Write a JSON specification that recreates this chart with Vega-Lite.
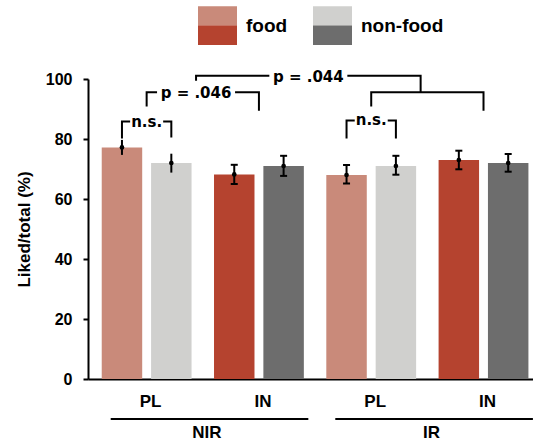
{
  "$schema": "https://vega.github.io/schema/vega-lite/v6.json",
  "autosize": {"type": "none"},
  "padding": {"left": 88, "top": 79, "right": 0, "bottom": 65},
  "width": 445,
  "height": 300,
  "background": "white",
  "config": {"view": {"stroke": null}, "font": "Liberation Sans"},
  "datasets": {
    "bars": [
      {"group": "NIR", "cond": "PL", "pair": "NIR PL", "type": "food", "value": 77.2, "lo": 74.7, "hi": 79.7},
      {"group": "NIR", "cond": "PL", "pair": "NIR PL", "type": "non-food", "value": 72, "lo": 68.8, "hi": 75.1},
      {"group": "NIR", "cond": "IN", "pair": "NIR IN", "type": "food", "value": 68.2, "lo": 65, "hi": 71.4},
      {"group": "NIR", "cond": "IN", "pair": "NIR IN", "type": "non-food", "value": 71, "lo": 67.7, "hi": 74.4},
      {"group": "IR", "cond": "PL", "pair": "IR PL", "type": "food", "value": 68, "lo": 65.2, "hi": 71.3},
      {"group": "IR", "cond": "PL", "pair": "IR PL", "type": "non-food", "value": 71, "lo": 68.1, "hi": 74.4},
      {"group": "IR", "cond": "IN", "pair": "IR IN", "type": "food", "value": 73, "lo": 69.9, "hi": 76.1},
      {"group": "IR", "cond": "IN", "pair": "IR IN", "type": "non-food", "value": 72, "lo": 69.1, "hi": 75}
    ],
    "ns_brackets": [
      {"id": "ns1", "pair": "NIR PL", "type": "food", "v": 80.2, "k": 1},
      {"id": "ns1", "pair": "NIR PL", "type": "food", "v": 85.8, "k": 2},
      {"id": "ns1", "pair": "NIR PL", "type": "non-food", "v": 85.8, "k": 3},
      {"id": "ns1", "pair": "NIR PL", "type": "non-food", "v": 80.5, "k": 4},
      {"id": "ns2", "pair": "IR PL", "type": "food", "v": 80.2, "k": 1},
      {"id": "ns2", "pair": "IR PL", "type": "food", "v": 86.2, "k": 2},
      {"id": "ns2", "pair": "IR PL", "type": "non-food", "v": 86.2, "k": 3},
      {"id": "ns2", "pair": "IR PL", "type": "non-food", "v": 80.2, "k": 4}
    ],
    "pair_brackets": [
      {"id": "b046", "pair": "NIR PL", "v": 90.8, "k": 1},
      {"id": "b046", "pair": "NIR PL", "v": 95.6, "k": 2},
      {"id": "b046", "pair": "NIR IN", "v": 95.6, "k": 3},
      {"id": "b046", "pair": "NIR IN", "v": 89.4, "k": 4},
      {"id": "b044s", "pair": "IR PL", "v": 90.8, "k": 1},
      {"id": "b044s", "pair": "IR PL", "v": 95.6, "k": 2},
      {"id": "b044s", "pair": "IR IN", "v": 95.6, "k": 3},
      {"id": "b044s", "pair": "IR IN", "v": 89.4, "k": 4}
    ],
    "top_bracket": [
      {"id": "b044", "pair": "NIR PL", "v": 99.4, "k": 1},
      {"id": "b044", "pair": "NIR PL", "v": 101.1, "k": 2},
      {"id": "b044", "pair": "IR PL", "v": 101.1, "k": 3},
      {"id": "b044", "pair": "IR PL", "v": 95.6, "k": 4}
    ],
    "ns_labels": [
      {"label": "n.s.", "pair": "NIR PL", "v": 85.8},
      {"label": "n.s.", "pair": "IR PL", "v": 86.2}
    ],
    "p_labels": [
      {"label": "p = .046", "pair": "NIR PL", "v": 95.6},
      {"label": "p = .044", "pair": "NIR IN", "v": 101.1}
    ],
    "groups": [
      {"group": "NIR", "from": "NIR PL", "to": "NIR IN"},
      {"group": "IR", "from": "IR PL", "to": "IR IN"}
    ]
  },
  "layer": [
    {
      "data": {"name": "bars"},
      "transform": [{"filter": "datum.cond === 'PL'"}],
      "mark": {"type": "bar"},
      "encoding": {
        "x": {
          "field": "pair", "type": "nominal",
          "scale": {"type": "band", "domain": ["NIR PL", "NIR IN", "IR PL", "IR IN"], "paddingInner": 0.2, "paddingOuter": 0.0815, "align": 0.75},
          "axis": {"title": null, "ticks": false, "domainColor": "black", "domainWidth": 2, "labelExpr": "split(datum.label, ' ')[1]", "labelFont": "Liberation Sans", "labelFontSize": 17, "labelFontWeight": "bold", "labelColor": "black", "labelPadding": 14, "labelAngle": 0, "labelOffset": 4}
        },
        "xOffset": {"field": "type", "type": "nominal", "scale": {"domain": ["food", "non-food"], "paddingInner": 0.18, "paddingOuter": 0}},
        "y": {
          "field": "value", "type": "quantitative",
          "scale": {"domain": [0, 100], "nice": false},
          "axis": {"values": [0, 20, 40, 60, 80, 100], "grid": false, "domainColor": "black", "domainWidth": 2, "tickColor": "black", "tickWidth": 2, "tickSize": 5, "labelFont": "Liberation Sans", "labelFontSize": 16, "labelFontWeight": "bold", "labelColor": "black", "labelPadding": 11, "title": "Liked/total (%)", "titleFont": "Liberation Sans", "titleFontSize": 17, "titleFontWeight": "bold", "titleColor": "black", "titlePadding": 12}
        },
        "color": {
          "field": "type", "type": "nominal",
          "scale": {"domain": ["food", "non-food"], "range": ["#c98a7a", "#d0d0ce"]},
          "legend": {"orient": "none", "legendX": 110, "legendY": -73, "direction": "horizontal", "columns": 2, "title": null, "symbolType": "M-1,-1H1V0H-1Z", "symbolSize": 1521, "symbolStrokeWidth": 0, "symbolOpacity": 1, "labelOpacity": 0, "labelFontSize": 19, "labelFont": "Liberation Sans", "labelFontWeight": "bold", "labelOffset": 9, "columnPadding": 25, "padding": 0}
        }
      }
    },
    {
      "data": {"name": "bars"},
      "transform": [{"filter": "datum.cond === 'IN'"}],
      "mark": {"type": "bar"},
      "encoding": {
        "x": {"field": "pair", "type": "nominal"},
        "xOffset": {"field": "type", "type": "nominal"},
        "y": {"field": "value", "type": "quantitative"},
        "color": {
          "field": "type", "type": "nominal",
          "scale": {"domain": ["food", "non-food"], "range": ["#b5432f", "#6d6d6d"]},
          "legend": {"orient": "none", "legendX": 110, "legendY": -73, "direction": "horizontal", "columns": 2, "title": null, "symbolType": "M-1,0H1V1H-1Z", "symbolSize": 1521, "symbolStrokeWidth": 0, "symbolOpacity": 1, "labelOpacity": 1, "labelColor": "black", "labelFontSize": 19, "labelFont": "Liberation Sans", "labelFontWeight": "bold", "labelOffset": 9, "columnPadding": 25, "padding": 0}
        }
      }
    },
    {
      "data": {"name": "bars"},
      "mark": {"type": "rule", "color": "black", "strokeWidth": 2},
      "encoding": {
        "x": {"field": "pair", "type": "nominal"},
        "xOffset": {"field": "type", "type": "nominal"},
        "y": {"field": "lo", "type": "quantitative"},
        "y2": {"field": "hi"}
      }
    },
    {
      "data": {"name": "bars"},
      "transform": [{"filter": "datum.pair !== 'NIR PL'"}],
      "mark": {"type": "tick", "color": "black", "size": 7, "thickness": 2, "orient": "horizontal", "opacity": 1},
      "encoding": {
        "x": {"field": "pair", "type": "nominal"},
        "xOffset": {"field": "type", "type": "nominal"},
        "y": {"field": "lo", "type": "quantitative"}
      }
    },
    {
      "data": {"name": "bars"},
      "transform": [{"filter": "datum.pair !== 'NIR PL'"}],
      "mark": {"type": "tick", "color": "black", "size": 7, "thickness": 2, "orient": "horizontal", "opacity": 1},
      "encoding": {
        "x": {"field": "pair", "type": "nominal"},
        "xOffset": {"field": "type", "type": "nominal"},
        "y": {"field": "hi", "type": "quantitative"}
      }
    },
    {
      "data": {"name": "bars"},
      "mark": {"type": "point", "filled": true, "color": "black", "size": 22, "opacity": 1},
      "encoding": {
        "x": {"field": "pair", "type": "nominal"},
        "xOffset": {"field": "type", "type": "nominal"},
        "y": {"field": "value", "type": "quantitative"}
      }
    },
    {
      "data": {"name": "ns_brackets"},
      "mark": {"type": "line", "color": "black", "strokeWidth": 2, "strokeJoin": "miter"},
      "encoding": {
        "x": {"field": "pair", "type": "nominal"},
        "xOffset": {"field": "type", "type": "nominal"},
        "y": {"field": "v", "type": "quantitative"},
        "detail": {"field": "id"},
        "order": {"field": "k"}
      }
    },
    {
      "data": {"name": "pair_brackets"},
      "mark": {"type": "line", "color": "black", "strokeWidth": 2, "strokeJoin": "miter"},
      "encoding": {
        "x": {"field": "pair", "type": "nominal"},
        "y": {"field": "v", "type": "quantitative"},
        "detail": {"field": "id"},
        "order": {"field": "k"}
      }
    },
    {
      "data": {"name": "top_bracket"},
      "mark": {"type": "line", "color": "black", "strokeWidth": 2, "strokeJoin": "miter"},
      "encoding": {
        "x": {"field": "pair", "type": "nominal", "bandPosition": 1.05},
        "y": {"field": "v", "type": "quantitative"},
        "detail": {"field": "id"},
        "order": {"field": "k"}
      }
    },
    {
      "data": {"name": "ns_labels"},
      "mark": {"type": "point", "shape": "M-1,-0.4H1V0.4H-1Z", "size": 1089, "filled": true, "color": "white", "opacity": 1, "strokeWidth": 0},
      "encoding": {
        "x": {"field": "pair", "type": "nominal"},
        "y": {"field": "v", "type": "quantitative"}
      }
    },
    {
      "data": {"name": "p_labels"},
      "mark": {"type": "point", "shape": "M-1,-0.2H1V0.2H-1Z", "size": 6084, "filled": true, "color": "white", "opacity": 1, "strokeWidth": 0},
      "encoding": {
        "x": {"field": "pair", "type": "nominal", "bandPosition": 1.05},
        "y": {"field": "v", "type": "quantitative"}
      }
    },
    {
      "data": {"name": "ns_labels"},
      "mark": {"type": "text", "font": "DejaVu Sans", "fontSize": 15, "fontWeight": "bold", "color": "black", "baseline": "middle", "dy": 0},
      "encoding": {
        "x": {"field": "pair", "type": "nominal"},
        "y": {"field": "v", "type": "quantitative"},
        "text": {"field": "label"}
      }
    },
    {
      "data": {"name": "p_labels"},
      "mark": {"type": "text", "font": "DejaVu Sans", "fontSize": 15, "fontWeight": "bold", "color": "black", "baseline": "middle", "dy": 1},
      "encoding": {
        "x": {"field": "pair", "type": "nominal", "bandPosition": 1.05},
        "y": {"field": "v", "type": "quantitative"},
        "text": {"field": "label"}
      }
    },
    {
      "data": {"name": "groups"},
      "mark": {"type": "rule", "color": "black", "strokeWidth": 2},
      "encoding": {
        "x": {"field": "from", "type": "nominal", "bandPosition": 0.1},
        "x2": {"field": "to", "bandPosition": 1.05},
        "y": {"datum": -13.3, "type": "quantitative"}
      }
    },
    {
      "data": {"name": "groups"},
      "mark": {"type": "text", "font": "Liberation Sans", "fontSize": 17, "fontWeight": "bold", "color": "black", "baseline": "middle"},
      "encoding": {
        "x": {"field": "to", "type": "nominal", "bandPosition": -0.08},
        "y": {"datum": -18, "type": "quantitative"},
        "text": {"field": "group"}
      }
    }
  ],
  "resolve": {"scale": {"color": "independent"}, "legend": {"color": "independent"}}
}
